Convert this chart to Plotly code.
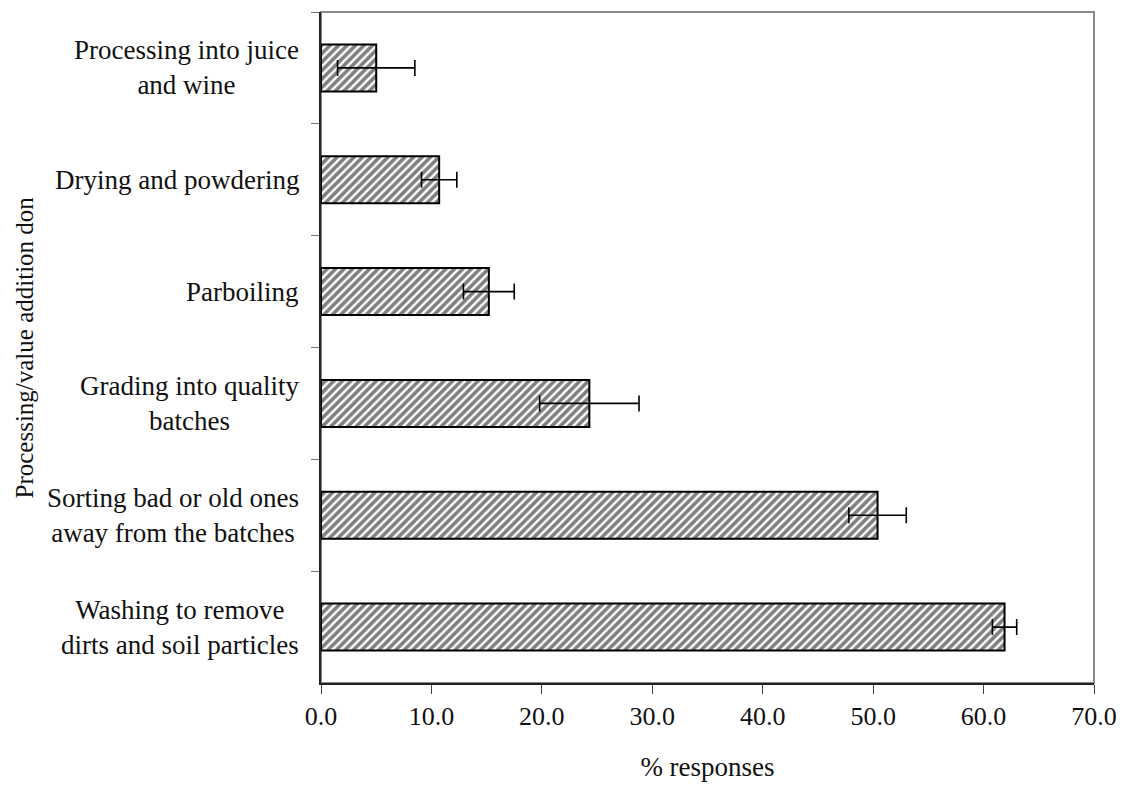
import plotly.graph_objects as go

categories = [
    "Processing into juice<br>and wine",
    "Drying and powdering",
    "Parboiling",
    "Grading into quality<br>batches",
    "Sorting bad or old ones<br>away from the batches",
    "Washing to remove<br>dirts and soil particles",
]
values = [5.0, 10.7, 15.2, 24.3, 50.4, 61.9]
errors = [3.5, 1.6, 2.3, 4.5, 2.6, 1.1]
x_ticks = [0, 10, 20, 30, 40, 50, 60, 70]
x_title = "% responses"
y_title = "Processing/value addition don"

FONT = "Liberation Serif"
fig = go.Figure()
fig.add_trace(go.Bar(
    x=values, y=categories, orientation="h", width=0.42,
    marker=dict(color="white", line=dict(color="black", width=2),
                pattern=dict(shape="/", fgcolor="black", bgcolor="white", size=6, solidity=0.6)),
    error_x=dict(type="data", array=errors, color="black", thickness=1.6, width=8),
    showlegend=False,
))

for c in categories:
    fig.add_annotation(x=0, y=c, xref="paper", yref="y", text=c, showarrow=False,
                       xanchor="right", yanchor="middle", align="center", xshift=-20,
                       font=dict(family=FONT, size=27, color="#111"))

fig.add_annotation(x=0, y=0.5, xref="paper", yref="paper", text=y_title, textangle=-90,
                   showarrow=False, xanchor="center", yanchor="middle", xshift=-297,
                   font=dict(family=FONT, size=25, color="#111"))

fig.add_shape(type="rect", xref="paper", yref="paper", x0=0, x1=1, y0=0, y1=1,
              line=dict(color="#8a8a8a", width=2), layer="below")

fig.update_xaxes(range=[0, 70], tickvals=x_ticks, tickformat=".1f",
                 showline=True, linecolor="#222", linewidth=1.5,
                 ticks="outside", ticklen=9, tickcolor="#444", tickwidth=1.2,
                 showgrid=False, zeroline=False,
                 tickfont=dict(family=FONT, size=26, color="#111"),
                 title=dict(text=x_title, font=dict(family=FONT, size=27, color="#111"), standoff=27))
fig.update_yaxes(autorange="reversed", showticklabels=False, tickson="boundaries",
                 showline=True, linecolor="#222", linewidth=1.8,
                 ticks="outside", ticklen=8, tickcolor="#777", tickwidth=1.2,
                 showgrid=False, zeroline=False)

# page body has an 8px margin; size the figure so the plot area lands where the reference has it
fig.update_layout(width=1113, height=777, margin=dict(l=313, r=24, t=4, b=102),
                  plot_bgcolor="white", paper_bgcolor="white")
fig.write_html("out.html")
